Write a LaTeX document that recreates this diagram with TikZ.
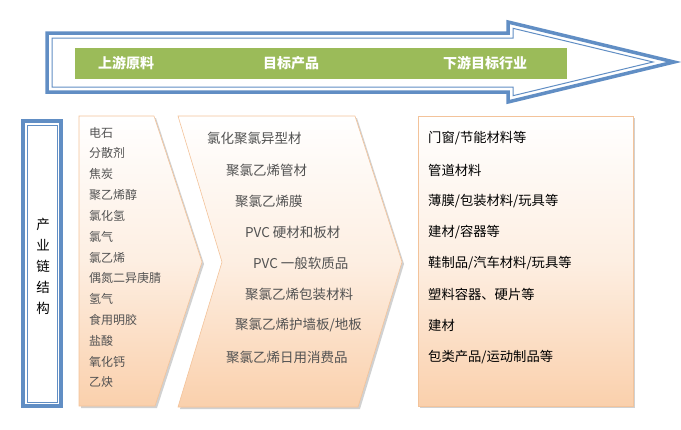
\documentclass[tikz,border=0pt]{standalone}
\usepackage{fontspec}
\setmainfont{Noto Sans CJK SC}
\definecolor{chainblue}{HTML}{4F81BD}
\definecolor{bargreen}{HTML}{9BBB59}
\definecolor{peach}{HTML}{FAD0AC}
\definecolor{peachline}{HTML}{F3C39A}
\begin{document}
\begin{tikzpicture}[x=1pt,y=-1pt,
    item/.style={anchor=west,inner sep=0,font=\fontsize{12}{13}\selectfont,text=black!68},
    product/.style={anchor=west,inner sep=0,font=\fontsize{13.5}{14}\selectfont,text=black!68},
    usage/.style={anchor=west,inner sep=0,font=\fontsize{13.3}{14}\selectfont,text=black},
    stage/.style={inner sep=0,font=\bfseries\fontsize{14}{15}\selectfont,text=white},
    panel/.style={draw=peachline,line width=0.6pt,top color=white,bottom color=peach,middle color=peach!35},
    panelshadow/.style={fill=black!18}]
    \useasboundingbox (0,0) rectangle (681,429);
    % big arrow on top
    \draw[chainblue!90,line width=3.5pt,line join=miter,fill=white]
        (47,33) -- (508,33) -- (508,22) -- (674,62) -- (508,102) -- (508,92) -- (47,92) -- cycle;
    \draw[chainblue!90,line width=1pt,line join=miter]
        (52,38) -- (513,38) -- (513,28.3) -- (653,62) -- (513,95.7) -- (513,87) -- (52,87) -- cycle;
    \fill[bargreen] (75,48) rectangle (567,79);
    \node[stage] (up) at (126,63) {上游原料};
    \node[stage] (mid) at (291,63) {目标产品};
    \node[stage] (down) at (485,63) {下游目标行业};
    % left title box
    \draw[chainblue!90,line width=4pt] (23,121) rectangle (61,406);
    \draw[chainblue!90,line width=1pt] (27,125.5) rectangle (57,402);
    \node[inner sep=0,font=\fontsize{13.5}{14}\selectfont] (t1) at (43,224) {产};
    \node[inner sep=0,font=\fontsize{13.5}{14}\selectfont] (t2) at (43,245) {业};
    \node[inner sep=0,font=\fontsize{13.5}{14}\selectfont] (t3) at (43,266) {链};
    \node[inner sep=0,font=\fontsize{13.5}{14}\selectfont] (t4) at (43,287) {结};
    \node[inner sep=0,font=\fontsize{13.5}{14}\selectfont] (t5) at (43,308) {构};
    % shadows
    \fill[panelshadow] (81,118) -- (156,118) -- (204,264) -- (157,408) -- (81,408) -- cycle;
    \fill[panelshadow] (180,118) -- (357,118) -- (404,264) -- (360,409) -- (180,409) -- (224,264) -- cycle;
    \fill[panelshadow] (420,118) rectangle (635,408);
    % panels
    \draw[panel] (79,116) -- (154,116) -- (202,262) -- (155,406) -- (79,406) -- cycle;
    \draw[panel] (178,116) -- (355,116) -- (402,262) -- (358,407) -- (178,407) -- (222,262) -- cycle;
    \draw[panel] (418,116) rectangle (633,406);
    % raw materials
    \node[item] (m1) at (89,133) {电石};
    \node[item] (m2) at (89,153) {分散剂};
    \node[item] (m3) at (89,174) {焦炭};
    \node[item] (m4) at (89,195) {聚乙烯醇};
    \node[item] (m5) at (89,216) {氯化氢};
    \node[item] (m6) at (89,237) {氯气};
    \node[item] (m7) at (89,258) {氯乙烯};
    \node[item] (m8) at (89,278) {偶氮二异庚腈};
    \node[item] (m9) at (89,299) {氢气};
    \node[item] (m10) at (89,320) {食用明胶};
    \node[item] (m11) at (89,341) {盐酸};
    \node[item] (m12) at (89,362) {氧化钙};
    \node[item] (m13) at (89,382) {乙炔};
    % products
    \node[product] (p1) at (207,138) {氯化聚氯异型材};
    \node[product] (p2) at (226,170) {聚氯乙烯管材};
    \node[product] (p3) at (235,201) {聚氯乙烯膜};
    \node[product] (p4) at (245,232) {PVC 硬材和板材};
    \node[product] (p5) at (253,263) {PVC 一般软质品};
    \node[product] (p6) at (245,294) {聚氯乙烯包装材料};
    \node[product] (p7) at (235,325) {聚氯乙烯护墙板/地板};
    \node[product] (p8) at (226,357) {聚氯乙烯日用消费品};
    % downstream
    \node[usage] (u1) at (428,138) {门窗/节能材料等};
    \node[usage] (u2) at (428,170) {管道材料};
    \node[usage] (u3) at (428,201) {薄膜/包装材料/玩具等};
    \node[usage] (u4) at (428,232) {建材/容器等};
    \node[usage] (u5) at (428,263) {鞋制品/汽车材料/玩具等};
    \node[usage] (u6) at (428,294) {塑料容器、硬片等};
    \node[usage] (u7) at (428,325) {建材};
    \node[usage] (u8) at (428,357) {包类产品/运动制品等};
\end{tikzpicture}
\end{document}
